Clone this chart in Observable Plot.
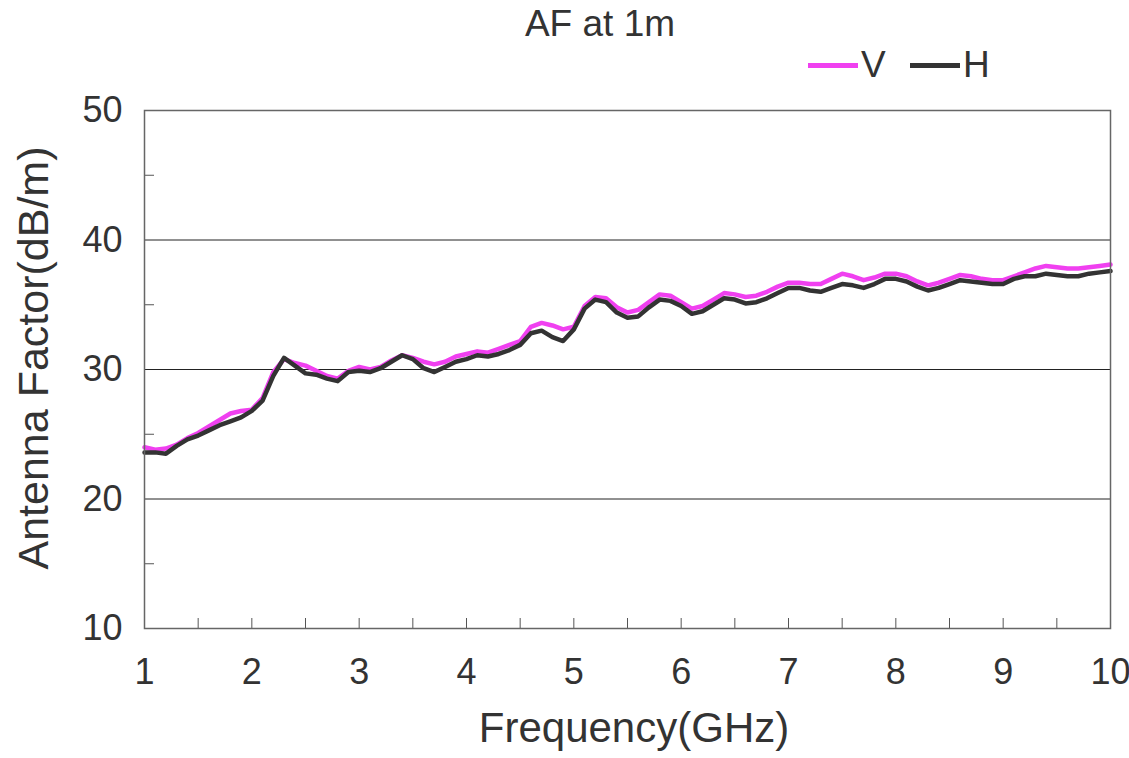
<!DOCTYPE html>
<html><head><meta charset="utf-8">
<script src="https://cdn.jsdelivr.net/npm/d3@7"></script>
<script src="https://cdn.jsdelivr.net/npm/@observablehq/plot@0.6"></script>
<style>
body{margin:0;background:#fff;font-family:"Liberation Sans",Arial,sans-serif;color:#333;}
#wrap{position:relative;width:1129px;height:758px;overflow:hidden;}
#head{position:relative;width:1129px;height:90px;}
#title{position:absolute;left:0;width:1200px;top:3px;text-align:center;font-size:37px;color:#333;}
.leg{position:absolute;top:44px;font-size:37px;color:#333;display:flex;align-items:center;line-height:42px;}
.sw{display:inline-block;width:50px;height:5px;margin-right:3px;}
#ylab{position:absolute;left:33px;top:358px;font-size:43px;transform:translate(-50%,-50%) rotate(-90deg);white-space:nowrap;}
#xlab{position:absolute;left:634px;top:728px;font-size:42px;transform:translate(-50%,-50%);white-space:nowrap;}
</style></head>
<body>
<div id="wrap">
  <div id="head">
    <div id="title">AF at 1m</div>
    <div class="leg" style="left:808px"><span class="sw" style="background:#f040f0"></span>V</div>
    <div class="leg" style="left:910px"><span class="sw" style="background:#333"></span>H</div>
  </div>
  <div id="chart"></div>
  <div id="ylab">Antenna Factor(dB/m)</div>
  <div id="xlab">Frequency(GHz)</div>
</div>
<script>
const freq = [1.0,1.1,1.2,1.3,1.4,1.5,1.6,1.7,1.8,1.9,2.0,2.1,2.2,2.3,2.4,2.5,2.6,2.7,2.8,2.9,3.0,3.1,3.2,3.3,3.4,3.5,3.6,3.7,3.8,3.9,4.0,4.1,4.2,4.3,4.4,4.5,4.6,4.7,4.8,4.9,5.0,5.1,5.2,5.3,5.4,5.5,5.6,5.7,5.8,5.9,6.0,6.1,6.2,6.3,6.4,6.5,6.6,6.7,6.8,6.9,7.0,7.1,7.2,7.3,7.4,7.5,7.6,7.7,7.8,7.9,8.0,8.1,8.2,8.3,8.4,8.5,8.6,8.7,8.8,8.9,9.0,9.1,9.2,9.3,9.4,9.5,9.6,9.7,9.8,9.9,10.0];
const afH = [23.6,23.6,23.5,24.1,24.6,24.9,25.3,25.7,26.0,26.3,26.8,27.6,29.5,30.9,30.3,29.7,29.6,29.3,29.1,29.8,29.9,29.8,30.1,30.6,31.1,30.8,30.1,29.8,30.2,30.6,30.8,31.1,31.0,31.2,31.5,31.9,32.8,33.0,32.5,32.2,33.1,34.7,35.4,35.2,34.4,34.0,34.1,34.8,35.4,35.3,34.9,34.3,34.5,35.0,35.5,35.4,35.1,35.2,35.5,35.9,36.3,36.3,36.1,36.0,36.3,36.6,36.5,36.3,36.6,37.0,37.0,36.8,36.4,36.1,36.3,36.6,36.9,36.8,36.7,36.6,36.6,37.0,37.2,37.2,37.4,37.3,37.2,37.2,37.4,37.5,37.6];
const afV = [24.0,23.8,23.9,24.2,24.7,25.1,25.6,26.1,26.6,26.8,26.9,27.8,29.8,30.8,30.5,30.3,29.9,29.5,29.3,29.9,30.2,30.0,30.2,30.7,31.1,30.9,30.6,30.4,30.6,31.0,31.2,31.4,31.3,31.6,31.9,32.2,33.3,33.6,33.4,33.1,33.3,34.9,35.6,35.5,34.8,34.4,34.6,35.2,35.8,35.7,35.2,34.7,34.9,35.4,35.9,35.8,35.6,35.7,36.0,36.4,36.7,36.7,36.6,36.6,37.0,37.4,37.2,36.9,37.1,37.4,37.4,37.2,36.8,36.5,36.7,37.0,37.3,37.2,37.0,36.9,36.9,37.2,37.5,37.8,38.0,37.9,37.8,37.8,37.9,38.0,38.1];
const xTicks = [1,2,3,4,5,6,7,8,9,10];
const xMinor = [1.5,2,2.5,3,3.5,4,4.5,5,5.5,6,6.5,7,7.5,8,8.5,9,9.5];
const yTicks = [10,20,30,40,50];
const yMinor = [15,25,35,45];
const yGrid = [20,30,40];

const dataH = freq.map((f,i)=>({f, v: afH[i]}));
const dataV = freq.map((f,i)=>({f, v: afV[i]}));

const chart = Plot.plot({
  width: 1129,
  height: 668,
  marginLeft: 144,
  marginRight: 19,
  marginTop: 20,
  marginBottom: 130,
  style: {fontFamily: '"Liberation Sans", Arial, sans-serif', fontSize: "36px", color: "#333", background: "transparent", overflow: "visible"},
  x: {domain: [1, 10]},
  y: {domain: [10, 50]},
  marks: [
    Plot.ruleY(yGrid, {stroke: "#222", strokeWidth: 1}),
    Plot.axisY(yTicks, {tickSize: 0, tickPadding: 22, label: null, fill: "#333", fontSize: 36}),
    Plot.axisY(yMinor, {tickSize: -10, tickFormat: () => "", label: null, stroke: "#555"}),
    Plot.axisX(xTicks, {tickSize: 0, tickPadding: 30, label: null, fill: "#333", fontSize: 36}),
    Plot.axisX(xMinor, {tickSize: -10, tickFormat: () => "", label: null, stroke: "#555"}),
    Plot.line(dataV, {x: "f", y: "v", stroke: "#f040f0", strokeWidth: 4.5, strokeLinejoin: "round"}),
    Plot.line(dataH, {x: "f", y: "v", stroke: "#333", strokeWidth: 4.5, strokeLinejoin: "round"}),
    Plot.frame({stroke: "#666", strokeWidth: 1.5})
  ]
});
document.getElementById("chart").appendChild(chart);
</script>
</body></html>
